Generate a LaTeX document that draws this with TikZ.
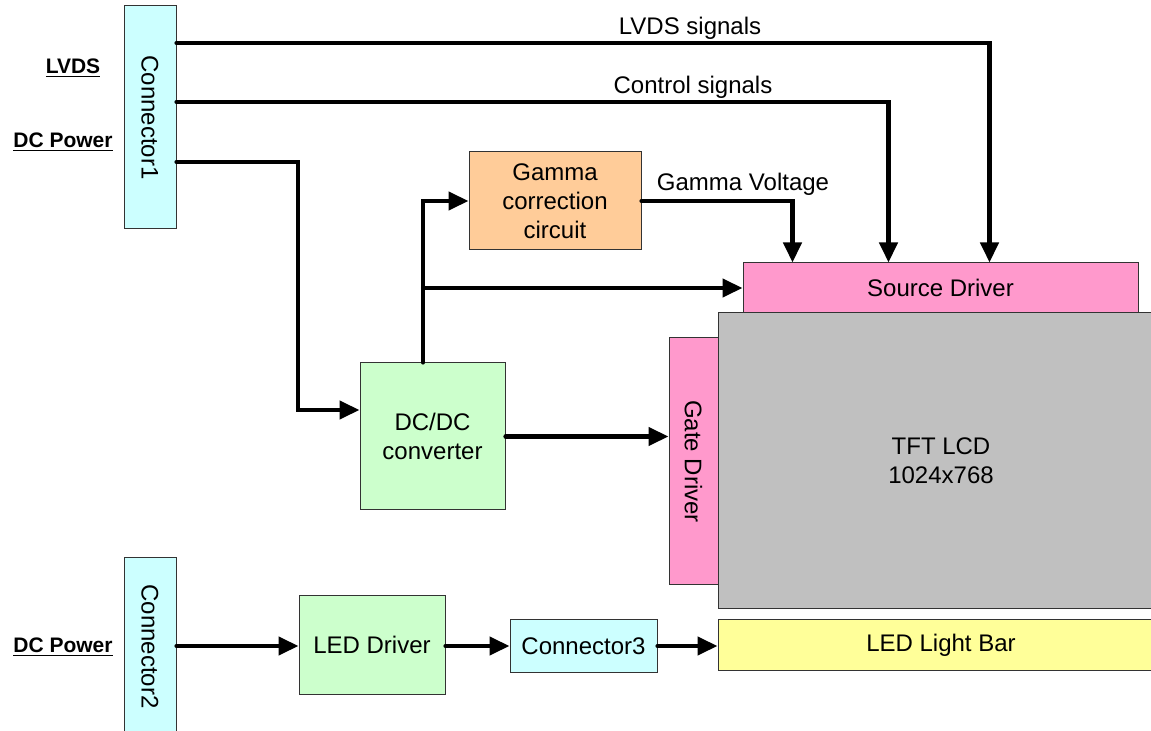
\documentclass[tikz,border=0pt]{standalone}
\usepackage{fontspec}
\setmainfont{Liberation Sans}
\usepackage{graphicx}
\usetikzlibrary{calc,arrows.meta,positioning}
\definecolor{lcdcyan}{RGB}{204,255,255}
\definecolor{lcdgreen}{RGB}{204,255,204}
\definecolor{lcdpeach}{RGB}{255,204,153}
\definecolor{lcdpink}{RGB}{255,153,204}
\definecolor{lcdgray}{RGB}{192,192,192}
\definecolor{lcdyellow}{RGB}{255,255,153}

\begin{document}
\begin{tikzpicture}[x=0.5pt, y=-0.5pt,
    block/.style={rectangle, draw=black!80, line width=0.5pt, inner sep=0pt,
                  align=center, font=\fontsize{12}{14.6}\selectfont},
    wire/.style={-{Triangle[length=10pt,width=9pt]}, line width=2.1pt, line cap=round},
    sig/.style={font=\fontsize{12}{14}\selectfont, inner sep=0pt},
    tag/.style={font=\fontsize{10.5}{12}\selectfont\bfseries, inner sep=0pt}
  ]
    \useasboundingbox (0,0) rectangle (1151,731);
    \clip (0,0) rectangle (1151,731);
    \fill[white] (0,0) rectangle (1151,731);

    % connectors and blocks
    \node[block, fill=lcdcyan, minimum width=26pt, minimum height=111.5pt] (con1) at (150,117.5) {\rotatebox{-90}{Connector1}};
    \node[block, fill=lcdcyan, minimum width=26pt, minimum height=88.5pt]  (con2) at (150,646.5) {\rotatebox{-90}{Connector2}};
    \node[block, fill=lcdgreen, minimum width=72.5pt, minimum height=73.5pt] (dcdc) at (432.5,436.5) {DC/DC\\converter};
    \node[block, fill=lcdpeach, minimum width=86pt, minimum height=49pt]     (gamma) at (555,201) {Gamma\\correction\\circuit};
    \node[block, fill=lcdgray,  minimum width=223pt, minimum height=148pt]   (tft) at (941,461) {TFT LCD\\1024x768};
    \node[block, fill=lcdpink,  minimum width=197.5pt, minimum height=25pt]  (src) at (940.5,288) {Source Driver};
    \node[block, fill=lcdpink,  minimum width=24.5pt, minimum height=123.5pt] (gate) at (693.5,461.5) {\rotatebox{-90}{Gate Driver}};
    \node[block, fill=lcdgreen, minimum width=73pt, minimum height=49pt]     (led) at (372,645) {LED Driver};
    \node[block, fill=lcdcyan,  minimum width=73.5pt, minimum height=26pt]   (con3) at (583.5,646) {Connector3};
    \node[block, fill=lcdyellow, minimum width=223pt, minimum height=25pt]   (bar) at (941,645) {LED Light Bar};

    % input labels
    \node[tag] (lvdstag) at (73,68)  {\underline{LVDS}};
    \node[tag] (pwrtag)  at (63,142) {\underline{DC Power}};
    \node[tag] (pwrtag2) at (63,647) {\underline{DC Power}};

    % signal labels
    \node[sig] (lvdslbl)  at (690,28)  {LVDS signals};
    \node[sig] (ctrllbl)  at (693,87)  {Control signals};
    \node[sig] (gammalbl) at (743,184) {Gamma Voltage};

    % wiring
    \draw[wire] (con1.east |- 0,43)  -| ($(src.north west)+(247,0)$);
    \draw[wire] (con1.east |- 0,102) -| ($(src.north west)+(146,0)$);
    \draw[wire] (con1.east |- 0,162) -| (298,410) -- (dcdc.west |- 0,410);
    \coordinate (tap) at (423,288);
    \draw[wire] (dcdc.north -| tap) |- (gamma.west);
    \draw[wire] (tap) -- (src.west);
    \draw[wire] (gamma.east) -| ($(src.north west)+(50,0)$);
    \draw[wire] (dcdc.east) -- (gate.west |- dcdc.east);
    \draw[wire] (con2.east |- con3.west) -- (led.west |- con3.west);
    \draw[wire] (led.east |- con3.west) -- (con3.west);
    \draw[wire] (con3.east) -- (bar.west |- con3.east);
  \end{tikzpicture}
\end{document}
